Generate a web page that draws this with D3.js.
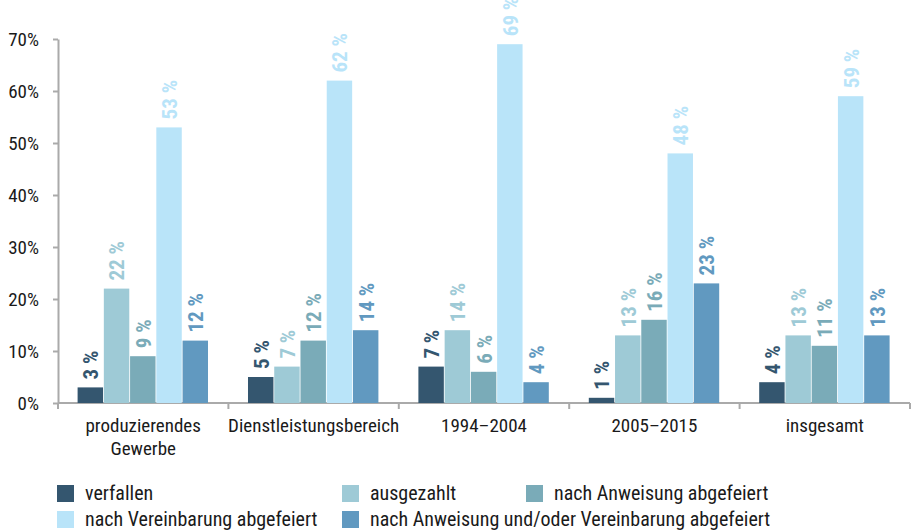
<!DOCTYPE html>
<html lang="de">
<head>
<meta charset="UTF-8" />
<title>Überstunden</title>
<style>
  body { margin: 0; background: #fff; }
  svg { display: block; }
  text { font-family: "Roboto Condensed", "Roboto", sans-serif; font-stretch: condensed; fill: #1a1a1a; }
  .axis path, .axis line { stroke: #aaa; stroke-width: 2px; }
  .axis text { font-size: 19px; }
  .val { font-size: 21px; font-weight: bold; }
  .legend text { font-size: 20px; }
</style>
</head>
<body>
<svg width="915" height="532"></svg>
<script src="https://d3js.org/d3.v7.min.js"></script>
<script>
// Kategorien und Werte (in %)
const categories = ["produzierendes Gewerbe", "Dienstleistungsbereich", "1994–2004", "2005–2015", "insgesamt"];
const seriesNames = ["verfallen", "ausgezahlt", "nach Anweisung abgefeiert", "nach Vereinbarung abgefeiert", "nach Anweisung und/oder Vereinbarung abgefeiert"];
const colors = ["#34566f", "#9ecad6", "#7aabb8", "#b9e4f9", "#6199c0"];
const verfallen = [3, 5, 7, 1, 4];
const ausgezahlt = [22, 7, 14, 13, 13];
const nachAnweisung = [9, 12, 6, 16, 11];
const nachVereinbarung = [53, 62, 69, 48, 59];
const anweisungOderVereinbarung = [12, 14, 4, 23, 13];
const yTicks = [0, 10, 20, 30, 40, 50, 60, 70];

const series = [verfallen, ausgezahlt, nachAnweisung, nachVereinbarung, anweisungOderVereinbarung];

const svg = d3.select("svg");
const margin = { left: 58, right: 5, top: 39, bottom: 129 };
const width = 915 - margin.left - margin.right;
const height = 532 - margin.top - margin.bottom;

const g = svg.append("g").attr("transform", `translate(${margin.left},${margin.top})`);

const x0 = d3.scaleBand().domain(categories).range([0, width]).paddingInner(0.23).paddingOuter(0.115);
const x1 = d3.scaleBand().domain(d3.range(seriesNames.length)).range([0, x0.bandwidth()]);
const y = d3.scaleLinear().domain([0, 70]).range([height, 0]);

// y axis
const yAxis = g.append("g").attr("class", "axis")
  .call(d3.axisLeft(y).tickValues(yTicks).tickFormat(d => d + "%").tickSize(5).tickSizeOuter(0));
yAxis.selectAll("text").attr("x", -19).attr("dy", "0.36em");

// x axis with ticks at group boundaries
const xAxis = g.append("g").attr("class", "axis").attr("transform", `translate(0,${height})`);
xAxis.append("line").attr("x1", 0).attr("x2", width).attr("y1", 0).attr("y2", 0);
const step = width / categories.length;
xAxis.selectAll("line.tk").data(d3.range(categories.length + 1)).join("line")
  .attr("class", "tk")
  .attr("x1", d => d * step).attr("x2", d => d * step)
  .attr("y1", 0).attr("y2", 6);
xAxis.selectAll("text").data(categories).join("text")
  .attr("text-anchor", "middle")
  .attr("transform", d => `translate(${x0(d) + x0.bandwidth() / 2},29)`)
  .each(function (d) {
    const words = d === "produzierendes Gewerbe" ? ["produzierendes", "Gewerbe"] : [d];
    d3.select(this).selectAll("tspan").data(words).join("tspan")
      .attr("x", 0)
      .attr("dy", (w, i) => i === 0 ? 0 : 23)
      .text(w => w);
  });

// bars
const groups = g.selectAll("g.grp").data(categories).join("g")
  .attr("class", "grp")
  .attr("transform", d => `translate(${x0(d)},0)`);

groups.selectAll("rect").data((d, ci) => series.map((s, si) => ({ si, v: s[ci] }))).join("rect")
  .attr("x", d => x1(d.si))
  .attr("y", d => y(d.v))
  .attr("width", x1.bandwidth() - 0.8)
  .attr("height", d => height - y(d.v))
  .attr("fill", d => colors[d.si]);

groups.selectAll("text.val").data((d, ci) => series.map((s, si) => ({ si, v: s[ci] }))).join("text")
  .attr("class", "val")
  .attr("transform", d => `translate(${x1(d.si) + x1.bandwidth() / 2 + 7.5},${y(d.v) - 8}) rotate(-90)`)
  .style("fill", d => colors[d.si])
  .text(d => d.v + " %");

// legend
const legendPos = [[57, 485], [342, 485], [526, 485], [57, 511], [342, 511]];
const legend = svg.append("g").attr("class", "legend");
seriesNames.forEach((name, i) => {
  const [lx, ly] = legendPos[i];
  legend.append("rect").attr("x", lx).attr("y", ly).attr("width", 17).attr("height", 17).attr("fill", colors[i]);
  legend.append("text").attr("x", lx + 28).attr("y", ly + 15).text(name);
});
</script>
</body>
</html>
